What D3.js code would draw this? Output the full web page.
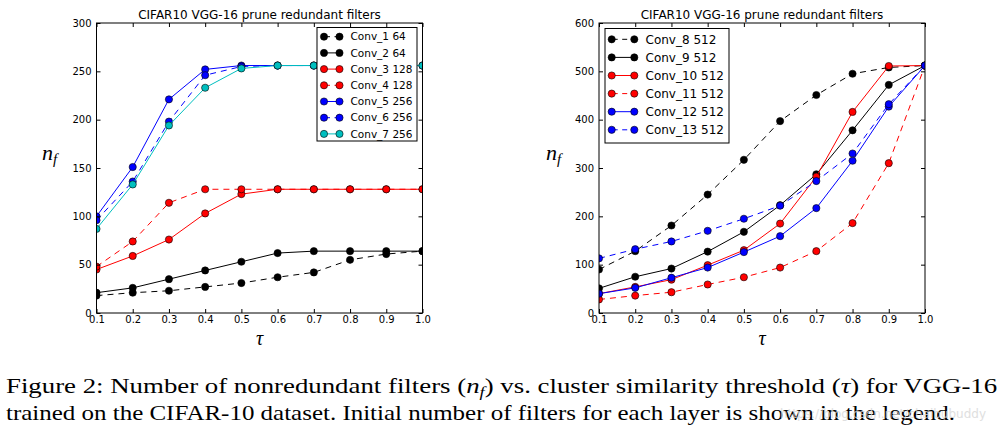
<!DOCTYPE html>
<html><head><meta charset="utf-8">
<script src="https://cdn.jsdelivr.net/npm/d3@7"></script>
<style>body{margin:0;background:#fff}svg{display:block}</style>
</head><body>
<script>
// ---------- data ----------
const tau = [0.1, 0.2, 0.3, 0.4, 0.5, 0.6, 0.7, 0.8, 0.9, 1.0];
const title = "CIFAR10 VGG-16 prune redundant filters";

const leftNames = ["Conv_1 64","Conv_2 64","Conv_3 128","Conv_4 128","Conv_5 256","Conv_6 256","Conv_7 256"];
const conv1 = [18, 21, 23, 27, 31, 37, 42, 55, 61, 64];
const conv2 = [21, 26, 35, 44, 53, 62, 64, 64, 64, 64];
const conv3 = [45, 59, 76, 103, 123, 128, 128, 128, 128, 128];
const conv4 = [48, 74, 114, 128, 128, 128, 128, 128, 128, 128];
const conv5 = [100, 151, 221, 252, 256, 256, 256, 256, 256, 256];
const conv6 = [96, 136, 198, 246, 255, 256, 256, 256, 256, 256];
const conv7 = [87, 133, 194, 233, 253, 256, 256, 256, 256, 256];
const leftTicks = [0, 50, 100, 150, 200, 250, 300];

const rightNames = ["Conv_8 512","Conv_9 512","Conv_10 512","Conv_11 512","Conv_12 512","Conv_13 512"];
const conv8  = [90, 128, 181, 245, 317, 397, 451, 495, 508, 512];
const conv9  = [51, 75, 92, 127, 168, 223, 287, 378, 472, 512];
const conv10 = [40, 54, 69, 99, 130, 185, 282, 416, 511, 512];
const conv11 = [28, 36, 43, 59, 74, 94, 128, 186, 310, 512];
const conv12 = [40, 52, 73, 94, 126, 159, 217, 315, 427, 512];
const conv13 = [113, 132, 148, 170, 195, 222, 273, 330, 432, 512];
const rightTicks = [0, 100, 200, 300, 400, 500, 600];

const captionLine1 = ["Figure 2: Number of nonredundant filters (", "n", "f", ") vs.  cluster similarity threshold (", "τ", ") for VGG-16"];
const captionLine2 = "trained on the CIFAR-10 dataset. Initial number of filters for each layer is shown in the legend.";
const watermark = "https://blog.csdn.net/chaibubuddy";

// ---------- drawing ----------
const svg = d3.select("body").append("svg").attr("width", 1004).attr("height", 433);
const BLACK="#000", RED="#ff0000", BLUE="#0000ff", CYAN="#00bfbf";
const DASH = "6,5";
const SERIF = "'Liberation Serif', 'Times New Roman', Times, serif";
const SANS = "'DejaVu Sans', sans-serif";

function panel(cfg, idx){
  const x = d3.scaleLinear().domain([0.1, 1.0]).range(cfg.xr);
  const y = d3.scaleLinear().domain([cfg.ticks[0], cfg.ticks[cfg.ticks.length-1]]).range([313, 23]);
  const g = svg.append("g");
  const [x0,x1] = cfg.xr, y0 = 313, y1 = 23;
  const clipId = "clip"+idx;
  g.append("clipPath").attr("id", clipId).append("rect")
    .attr("x", x0).attr("y", y1).attr("width", x1-x0).attr("height", y0-y1);
  const plot = g.append("g").attr("clip-path", `url(#${clipId})`);
  const line = d3.line().x((d,i)=>x(tau[i])).y(d=>y(d));
  cfg.series.forEach(s=>{
    plot.append("path").datum(s.values).attr("d", line)
      .attr("fill","none").attr("stroke", s.color).attr("stroke-width", 1)
      .attr("stroke-dasharray", s.dash ? DASH : null);
    plot.selectAll(null).data(s.values).enter().append("circle")
      .attr("cx",(d,i)=>x(tau[i])).attr("cy", d=>y(d)).attr("r", 3.6)
      .attr("fill", s.color).attr("stroke", "#000").attr("stroke-width", 0.6);
  });
  const fmt = d3.format(".1f");
  const ax = (gen, tr)=>{
    const a = g.append("g").attr("transform", tr).call(gen);
    a.select(".domain").remove();
    a.attr("font-family", SANS).attr("font-size", 10);
    a.selectAll("line").attr("stroke","#000");
    a.selectAll("text").attr("fill","#000");
    return a;
  };
  ax(d3.axisBottom(x).tickValues(tau).tickFormat(fmt).tickSize(-4).tickPadding(3), `translate(0,${y0})`);
  ax(d3.axisTop(x).tickValues(tau).tickFormat("").tickSize(-4), `translate(0,${y1})`);
  ax(d3.axisLeft(y).tickValues(cfg.ticks).tickFormat(d3.format("d")).tickSize(-4).tickPadding(5), `translate(${x0},0)`);
  ax(d3.axisRight(y).tickValues(cfg.ticks).tickFormat("").tickSize(-4), `translate(${x1},0)`);
  g.append("rect").attr("x",x0).attr("y",y1).attr("width",x1-x0).attr("height",y0-y1)
    .attr("fill","none").attr("stroke","#000").attr("stroke-width",1);
  // title
  g.append("text").attr("x",(x0+x1)/2).attr("y",19).attr("text-anchor","middle")
    .attr("font-family",SANS).attr("font-size",12).text(title);
  // axis labels
  g.append("text").attr("x",(x0+x1)/2).attr("y",345).attr("text-anchor","middle")
    .attr("font-family",SERIF).attr("font-style","italic").attr("font-size",20).text("τ");
  const yl = g.append("text").attr("x", cfg.ylx).attr("y", 160)
    .attr("font-family",SERIF).attr("font-style","italic").attr("font-size",22);
  yl.append("tspan").text("n");
  yl.append("tspan").attr("dy",4).attr("font-size",15).text("f");
  // legend
  const L = cfg.legend;
  const lg = g.append("g");
  lg.append("rect").attr("x",L.x).attr("y",L.y).attr("width",L.w).attr("height",L.h)
    .attr("fill","#fff").attr("stroke","#000").attr("stroke-width",1);
  cfg.series.forEach((s,i)=>{
    const cy = L.first + i*L.step;
    lg.append("line").attr("x1",L.lx0).attr("x2",L.lx1).attr("y1",cy).attr("y2",cy)
      .attr("stroke",s.color).attr("stroke-width",1).attr("stroke-dasharray", s.dash ? "5,4.5" : null)
      .attr("stroke-dashoffset", s.dash ? -1 : null);
    [L.lx0, L.lx1].forEach(cx=>lg.append("circle").attr("cx",cx).attr("cy",cy).attr("r",3.6)
      .attr("fill",s.color).attr("stroke","#000").attr("stroke-width",0.6));
    lg.append("text").attr("x",L.tx).attr("y",cy).attr("dy","0.36em")
      .attr("font-family",SANS).attr("font-size",L.fs).text(s.name);
  });
}

panel({
  xr:[96.5, 422.5], ticks:leftTicks, ylx:42,
  series:[
    {name:leftNames[0], values:conv1, color:BLACK, dash:true},
    {name:leftNames[1], values:conv2, color:BLACK, dash:false},
    {name:leftNames[2], values:conv3, color:RED, dash:false},
    {name:leftNames[3], values:conv4, color:RED, dash:true},
    {name:leftNames[4], values:conv5, color:BLUE, dash:false},
    {name:leftNames[5], values:conv6, color:BLUE, dash:true},
    {name:leftNames[6], values:conv7, color:CYAN, dash:false}
  ],
  legend:{x:317, y:27.5, w:100, h:113.5, first:36.7, step:16.2, lx0:324, lx1:339.5, tx:350.5, fs:10.5}
},0);

panel({
  xr:[599, 925], ticks:rightTicks, ylx:546,
  series:[
    {name:rightNames[0], values:conv8, color:BLACK, dash:true},
    {name:rightNames[1], values:conv9, color:BLACK, dash:false},
    {name:rightNames[2], values:conv10, color:RED, dash:false},
    {name:rightNames[3], values:conv11, color:RED, dash:true},
    {name:rightNames[4], values:conv12, color:BLUE, dash:false},
    {name:rightNames[5], values:conv13, color:BLUE, dash:true}
  ],
  legend:{x:605, y:28.5, w:124, h:114.5, first:39.3, step:18.1, lx0:611.7, lx1:634.3, tx:645.5, fs:12}
},1);

// caption
function fitText(sel, x0, x1){
  const w = sel.node().getBBox().width;
  const y = +sel.attr("y");
  sel.attr("x",0).attr("y",0).attr("transform",`translate(${x0},${y}) scale(${(x1-x0)/w},1)`);
}
const c1 = svg.append("text").attr("x",0).attr("y",393).attr("font-family",SERIF).attr("font-size",22);
c1.append("tspan").text(captionLine1[0]);
c1.append("tspan").attr("font-style","italic").text(captionLine1[1]);
c1.append("tspan").attr("font-style","italic").attr("font-size",15).attr("dy",4).text(captionLine1[2]);
c1.append("tspan").attr("dy",-4).text(captionLine1[3]);
c1.append("tspan").attr("font-style","italic").text(captionLine1[4]);
c1.append("tspan").text(captionLine1[5]);
fitText(c1, 6, 998);
const c2 = svg.append("text").attr("x",0).attr("y",420).attr("font-family",SERIF).attr("font-size",22).text(captionLine2);
fitText(c2, 6, 956);
svg.append("text").attr("x",780).attr("y",418).attr("font-family",SANS)
  .attr("font-size",12).attr("fill","#d8d8d8").attr("opacity",0.8).text(watermark);
</script>
</body></html>
